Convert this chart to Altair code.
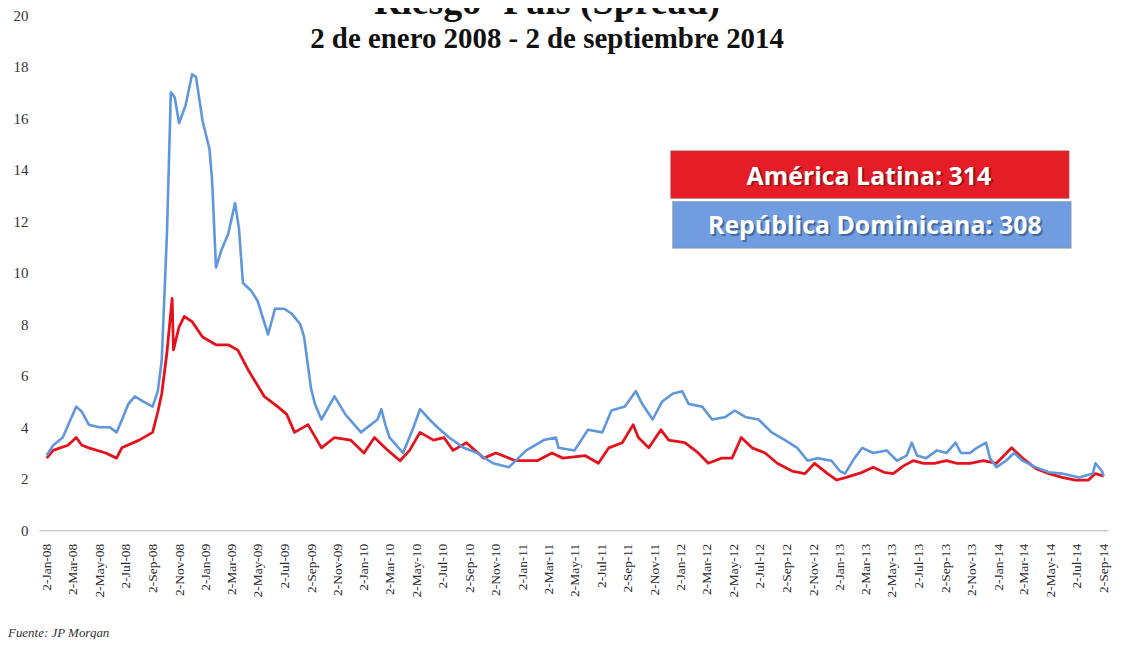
import altair as alt
import pandas as pd

# ---------------- text ----------------
title_text = "Riesgo- País (Spread)"
subtitle_text = "2 de enero 2008 - 2 de septiembre 2014"
source_text = "Fuente: JP Morgan"
legend_labels = ["América Latina: 314", "República Dominicana: 308"]
line_colors = ["#e3121c", "#5f97dd"]
box_colors = ["#e41d26", "#6f9de0"]

# ---------------- axes ----------------
y_ticks = [0, 2, 4, 6, 8, 10, 12, 14, 16, 18, 20]
tick_dates = [
    "2008-01-02", "2008-03-02", "2008-05-02", "2008-07-02", "2008-09-02", "2008-11-02",
    "2009-01-02", "2009-03-02", "2009-05-02", "2009-07-02", "2009-09-02", "2009-11-02",
    "2010-01-02", "2010-03-02", "2010-05-02", "2010-07-02", "2010-09-02", "2010-11-02",
    "2011-01-02", "2011-03-02", "2011-05-02", "2011-07-02", "2011-09-02", "2011-11-02",
    "2012-01-02", "2012-03-02", "2012-05-02", "2012-07-02", "2012-09-02", "2012-11-02",
    "2013-01-02", "2013-03-02", "2013-05-02", "2013-07-02", "2013-09-02", "2013-11-02",
    "2014-01-02", "2014-03-02", "2014-05-02", "2014-07-02", "2014-09-02",
]
x_domain = ["2007-12-15", "2014-09-12"]

# ---------------- América Latina (red) ----------------
red_dates = [
    "2008-01-02", "2008-01-17", "2008-02-02", "2008-02-20", "2008-03-10", "2008-03-23",
    "2008-04-08", "2008-05-17", "2008-06-11", "2008-06-23", "2008-08-02", "2008-09-02",
    "2008-09-14", "2008-09-23", "2008-10-05", "2008-10-17", "2008-10-20", "2008-11-02",
    "2008-11-14", "2008-12-02", "2008-12-26", "2009-01-26", "2009-02-23", "2009-03-17",
    "2009-04-11", "2009-05-17", "2009-06-17", "2009-07-08", "2009-07-26", "2009-08-26",
    "2009-09-26", "2009-10-26", "2009-12-02", "2010-01-02", "2010-01-26", "2010-02-26",
    "2010-03-26", "2010-04-17", "2010-05-11", "2010-06-11", "2010-07-05", "2010-07-26",
    "2010-08-26", "2010-10-05", "2010-11-02", "2010-12-17", "2011-02-05", "2011-03-11",
    "2011-04-05", "2011-05-26", "2011-06-26", "2011-07-20", "2011-08-20", "2011-09-14",
    "2011-09-26", "2011-10-20", "2011-11-17", "2011-12-05", "2012-01-11", "2012-02-11",
    "2012-03-05", "2012-04-05", "2012-04-29", "2012-05-20", "2012-06-14", "2012-07-14",
    "2012-08-11", "2012-09-14", "2012-10-14", "2012-11-05", "2012-12-05", "2012-12-26",
    "2013-01-17", "2013-02-23", "2013-03-20", "2013-04-14", "2013-05-05", "2013-05-29",
    "2013-06-20", "2013-07-14", "2013-08-08", "2013-09-05", "2013-09-29", "2013-10-29",
    "2013-11-29", "2013-12-29", "2014-02-02", "2014-02-27", "2014-03-29", "2014-04-29",
    "2014-05-29", "2014-06-29", "2014-07-29", "2014-08-14", "2014-09-02",
]
red_values = [
    2.8, 3.1, 3.2, 3.3, 3.6, 3.3,
    3.2, 3.0, 2.8, 3.2, 3.5, 3.8,
    4.6, 5.3, 6.9, 9.0, 7.0, 7.9,
    8.3, 8.1, 7.5, 7.2, 7.2, 7.0,
    6.2, 5.2, 4.8, 4.5, 3.8, 4.1,
    3.2, 3.6, 3.5, 3.0, 3.6, 3.1,
    2.7, 3.1, 3.8, 3.5, 3.6, 3.1,
    3.4, 2.8, 3.0, 2.7, 2.7, 3.0,
    2.8, 2.9, 2.6, 3.2, 3.4, 4.1,
    3.6, 3.2, 3.9, 3.5, 3.4, 3.0,
    2.6, 2.8, 2.8, 3.6, 3.2, 3.0,
    2.6, 2.3, 2.2, 2.6, 2.2, 1.95,
    2.05, 2.25, 2.45, 2.25, 2.2, 2.5,
    2.7, 2.6, 2.6, 2.7, 2.6, 2.6,
    2.7, 2.6, 3.2, 2.8, 2.4, 2.2,
    2.05, 1.95, 1.95, 2.2, 2.1,
]

# ---------------- República Dominicana (blue) ----------------
blue_dates = [
    "2008-01-02", "2008-01-17", "2008-02-08", "2008-02-26", "2008-03-10", "2008-03-23",
    "2008-04-08", "2008-05-02", "2008-05-26", "2008-06-11", "2008-06-26", "2008-07-08",
    "2008-07-23", "2008-08-11", "2008-09-02", "2008-09-14", "2008-09-23", "2008-10-05",
    "2008-10-14", "2008-10-23", "2008-11-02", "2008-11-17", "2008-12-02", "2008-12-11",
    "2008-12-26", "2009-01-11", "2009-01-17", "2009-01-26", "2009-02-08", "2009-02-23",
    "2009-03-11", "2009-03-20", "2009-03-29", "2009-04-17", "2009-05-02", "2009-05-26",
    "2009-06-11", "2009-07-02", "2009-07-20", "2009-08-08", "2009-08-17", "2009-09-02",
    "2009-09-11", "2009-09-26", "2009-10-26", "2009-11-20", "2009-12-26", "2010-02-02",
    "2010-02-11", "2010-02-20", "2010-03-02", "2010-04-02", "2010-04-26", "2010-05-11",
    "2010-06-02", "2010-06-20", "2010-07-17", "2010-08-20", "2010-09-20", "2010-10-26",
    "2010-12-02", "2011-01-11", "2011-02-20", "2011-03-20", "2011-03-26", "2011-05-02",
    "2011-06-02", "2011-07-05", "2011-07-26", "2011-08-26", "2011-09-20", "2011-10-05",
    "2011-10-29", "2011-11-20", "2011-12-14", "2012-01-05", "2012-01-20", "2012-02-20",
    "2012-03-14", "2012-04-14", "2012-05-05", "2012-05-29", "2012-06-29", "2012-07-29",
    "2012-08-29", "2012-09-26", "2012-10-20", "2012-11-11", "2012-12-14", "2013-01-02",
    "2013-01-14", "2013-02-05", "2013-02-23", "2013-03-20", "2013-04-20", "2013-05-14",
    "2013-06-05", "2013-06-17", "2013-06-29", "2013-07-20", "2013-08-14", "2013-09-05",
    "2013-09-26", "2013-10-08", "2013-10-29", "2013-11-14", "2013-12-05", "2013-12-14",
    "2013-12-29", "2014-01-20", "2014-02-08", "2014-02-27", "2014-03-29", "2014-04-29",
    "2014-05-29", "2014-07-08", "2014-08-08", "2014-08-14", "2014-08-29", "2014-09-02",
]
blue_values = [
    2.9, 3.3, 3.6, 4.3, 4.8, 4.6,
    4.1, 4.0, 4.0, 3.8, 4.4, 4.9,
    5.2, 5.0, 4.8, 5.4, 6.6, 11.5,
    17.0, 16.8, 15.8, 16.5, 17.7, 17.6,
    15.9, 14.8, 13.6, 10.2, 10.9, 11.5,
    12.7, 11.7, 9.6, 9.3, 8.9, 7.6,
    8.6, 8.6, 8.4, 8.0, 7.5, 5.5,
    4.9, 4.3, 5.2, 4.5, 3.8, 4.3,
    4.7, 4.1, 3.6, 3.0, 4.0, 4.7,
    4.3, 4.0, 3.6, 3.2, 3.0, 2.6,
    2.45, 3.1, 3.5, 3.6, 3.2, 3.1,
    3.9, 3.8, 4.65, 4.8, 5.4, 4.9,
    4.3, 5.0, 5.3, 5.4, 4.9, 4.8,
    4.3, 4.4, 4.65, 4.4, 4.3, 3.8,
    3.5, 3.2, 2.7, 2.8, 2.7, 2.3,
    2.2, 2.8, 3.2, 3.0, 3.1, 2.7,
    2.9, 3.4, 2.9, 2.8, 3.1, 3.0,
    3.4, 3.0, 3.0, 3.2, 3.4, 2.8,
    2.45, 2.7, 3.0, 2.7, 2.45, 2.25,
    2.2, 2.05, 2.2, 2.6, 2.3, 2.1,
]


def ms(d):
    return int(pd.Timestamp(d, tz="UTC").timestamp() * 1000)


serif = "Liberation Serif"
sans = "Open Sans"

x_enc = alt.X(
    "date:T",
    title=None,
    scale=alt.Scale(type="utc", domain=[ms(d) for d in x_domain]),
    axis=alt.Axis(
        values=[ms(d) for d in tick_dates],
        format="%-d-%b-%y",
        labelAngle=-90,
        labelFont=serif,
        labelFontSize=13.5,
        labelColor="#2a2a2a",
        labelPadding=13,
        labelOverlap=False,
        labelFlush=False,
        ticks=False,
        grid=False,
        domainColor="#b8b8b8",
        domainWidth=1,
    ),
)
y_enc = alt.Y(
    "value:Q",
    title=None,
    scale=alt.Scale(domain=[0, 20], nice=False, zero=True),
    axis=alt.Axis(
        values=y_ticks,
        labelFont=serif,
        labelFontSize=15,
        labelColor="#333333",
        labelPadding=11,
        ticks=False,
        grid=False,
        domain=False,
    ),
)

red_df = pd.DataFrame({"date": red_dates, "value": red_values})
blue_df = pd.DataFrame({"date": blue_dates, "value": blue_values})

red_line = alt.Chart(red_df).mark_line(
    color=line_colors[0], strokeWidth=2.8, strokeJoin="round"
).encode(x=x_enc, y=y_enc)
blue_line = alt.Chart(blue_df).mark_line(
    color=line_colors[1], strokeWidth=2.6, strokeJoin="round"
).encode(x=x_enc, y=y_enc)


def text_layer(txt, x, y, **kw):
    return alt.Chart(pd.DataFrame({"t": [txt]})).mark_text(**kw).encode(
        x=alt.value(x), y=alt.value(y), text="t:N"
    )


def box_layer(color, x, x2, y, y2):
    return alt.Chart(pd.DataFrame({"c": [color]})).mark_rect(
        color=color, stroke="#8a8a8a", strokeWidth=0.5
    ).encode(x=alt.value(x), x2=alt.value(x2), y=alt.value(y), y2=alt.value(y2))


# plot origin is at page (39, 14)
title_l = text_layer(title_text, 510, -1, font=serif, fontSize=38, fontWeight="bold",
                     align="center", baseline="alphabetic", color="#111111")
subtitle_l = text_layer(subtitle_text, 510, 33, font=serif, fontSize=29, fontWeight="bold",
                        align="center", baseline="alphabetic", color="#111111")
source_l = text_layer(source_text, -31, 624, font=serif, fontSize=13, fontStyle="italic",
                      align="left", baseline="alphabetic", color="#333333")

red_box = box_layer(box_colors[0], 634, 1034, 136, 184)
blue_box = box_layer(box_colors[1], 636, 1036, 187, 234)

fs = 25
red_shadow = text_layer(legend_labels[0], 835, 171.5, font=sans, fontSize=fs, fontWeight="bold",
                        align="center", baseline="alphabetic", color="#5a0a0a", opacity=0.55)
red_text = text_layer(legend_labels[0], 833, 170, font=sans, fontSize=fs, fontWeight="bold",
                      align="center", baseline="alphabetic", color="#ffffff")
blue_shadow = text_layer(legend_labels[1], 841, 221.5, font=sans, fontSize=fs, fontWeight="bold",
                         align="center", baseline="alphabetic", color="#2a3f66", opacity=0.55)
blue_text = text_layer(legend_labels[1], 839, 220, font=sans, fontSize=fs, fontWeight="bold",
                       align="center", baseline="alphabetic", color="#ffffff")

chart = alt.layer(
    red_line, blue_line,
    title_l, subtitle_l, source_l,
    red_box, blue_box, red_shadow, red_text, blue_shadow, blue_text,
).properties(
    width=1073,
    height=517,
    autosize=alt.AutoSizeParams(type="none"),
    padding={"left": 31, "top": 6, "right": 5, "bottom": 108},
    background="white",
).configure_view(stroke=None)

chart.save("out.html", embed_options={"renderer": "svg", "actions": False})
